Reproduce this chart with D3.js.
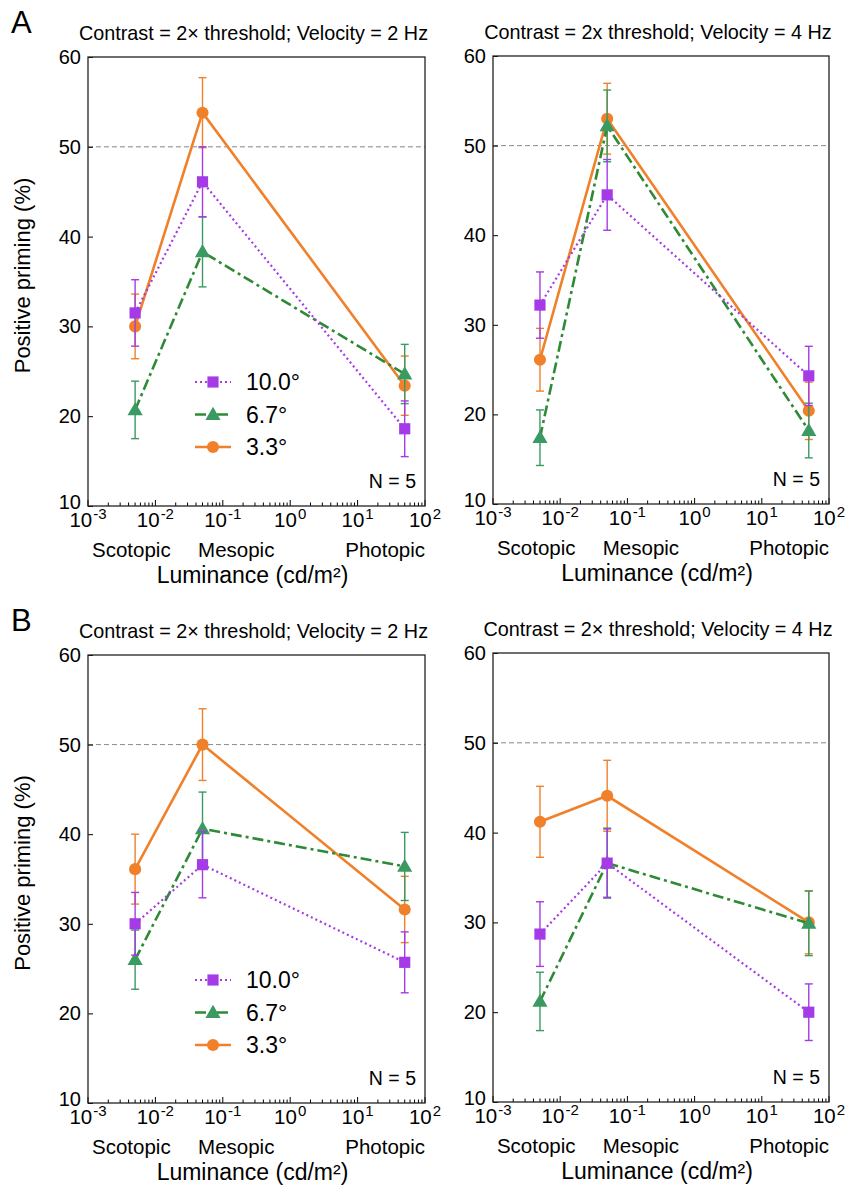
<!DOCTYPE html>
<html><head><meta charset="utf-8">
<script src="https://cdn.jsdelivr.net/npm/d3@7"></script>
<style>html,body{margin:0;padding:0;background:#fff;} text{font-family:"Liberation Sans",Arial,Helvetica,sans-serif;fill:#000;}</style>
</head><body>
<svg id="chart" width="848" height="1189"></svg>
<script>
// ---------- DATA ----------
const luminance = [0.005, 0.05, 50];
const seriesNames = ["10.0°", "6.7°", "3.3°"];
const yTicks = [10, 20, 30, 40, 50, 60];
const xTickLabels = ["-3", "-2", "-1", "0", "1", "2"];
const regimeLabels = ["Scotopic", "Mesopic", "Photopic"];
const chanceLevel = 50;

// Panel A, 2 Hz
const a2_deg10 = [31.5, 46.1, 18.6], a2_deg10_err = [3.7, 3.9, 3.1];
const a2_deg67 = [20.7, 38.3, 24.7], a2_deg67_err = [3.2, 3.9, 3.3];
const a2_deg33 = [30.0, 53.8, 23.4], a2_deg33_err = [3.6, 3.9, 3.3];
// Panel A, 4 Hz
const a4_deg10 = [32.2, 44.5, 24.3], a4_deg10_err = [3.7, 3.95, 3.3];
const a4_deg67 = [17.4, 52.2, 18.2], a4_deg67_err = [3.1, 4.0, 3.05];
const a4_deg33 = [26.1, 53.0, 20.4], a4_deg33_err = [3.5, 3.95, 3.2];
// Panel B, 2 Hz
const b2_deg10 = [30.0, 36.6, 25.7], b2_deg10_err = [3.5, 3.7, 3.4];
const b2_deg67 = [26.0, 40.6, 36.4], b2_deg67_err = [3.3, 4.1, 3.8];
const b2_deg33 = [36.1, 50.0, 31.6], b2_deg33_err = [3.9, 4.0, 3.7];
// Panel B, 4 Hz
const b4_deg10 = [28.7, 36.6, 20.0], b4_deg10_err = [3.6, 3.8, 3.15];
const b4_deg67 = [21.2, 36.6, 29.9], b4_deg67_err = [3.25, 3.9, 3.6];
const b4_deg33 = [41.2, 44.1, 30.0], b4_deg33_err = [3.95, 3.95, 3.5];

// ---------- STYLE ----------
const styles = [
  {line:"#a43be6", mark:"#a43be6", dash:"2,3", width:2.2, sym:d3.symbolSquare, size:125},
  {line:"#2f8a35", mark:"#3a9a62", dash:"11,4,3,4", width:2.6, sym:d3.symbolTriangle, size:100},
  {line:"#f0802a", mark:"#f0802a", dash:null, width:2.6, sym:d3.symbolCircle, size:115}
];
const drawOrder = [2, 1, 0];

const panels = [
  {x0:88, x1:425, y0:57, y1:506, title:"Contrast = 2× threshold; Velocity = 2 Hz", letter:"A", ylab:true, legend:true,
   vals:[a2_deg10,a2_deg67,a2_deg33], errs:[a2_deg10_err,a2_deg67_err,a2_deg33_err]},
  {x0:493, x1:829, y0:56, y1:504, title:"Contrast = 2x threshold; Velocity = 4 Hz", letter:null, ylab:false, legend:false,
   vals:[a4_deg10,a4_deg67,a4_deg33], errs:[a4_deg10_err,a4_deg67_err,a4_deg33_err]},
  {x0:88, x1:425, y0:655, y1:1103, title:"Contrast = 2× threshold; Velocity = 2 Hz", letter:"B", ylab:true, legend:true,
   vals:[b2_deg10,b2_deg67,b2_deg33], errs:[b2_deg10_err,b2_deg67_err,b2_deg33_err]},
  {x0:493, x1:829, y0:653, y1:1102, title:"Contrast = 2× threshold; Velocity = 4 Hz", letter:null, ylab:false, legend:false,
   vals:[b4_deg10,b4_deg67,b4_deg33], errs:[b4_deg10_err,b4_deg67_err,b4_deg33_err]}
];

const svg = d3.select("#chart");
svg.append("rect").attr("width",848).attr("height",1189).attr("fill","#fff");

panels.forEach(p => {
  const g = svg.append("g");
  const x = d3.scaleLog().domain([1e-3, 1e2]).range([p.x0, p.x1]);
  const y = d3.scaleLinear().domain([10, 60]).range([p.y1, p.y0]);
  const cx = (p.x0 + p.x1) / 2;

  // title
  g.append("text").attr("x", cx - 3).attr("y", p.y0 - 17).attr("text-anchor","middle")
    .style("font-size","19.8px").text(p.title);
  if (p.letter) g.append("text").attr("x", 11).attr("y", p.y0 - 24).style("font-size","31px").text(p.letter);

  // chance line
  g.append("line").attr("x1", p.x0).attr("x2", p.x1).attr("y1", y(chanceLevel)).attr("y2", y(chanceLevel))
    .attr("stroke","#888").attr("stroke-width",1).attr("stroke-dasharray","5,3");

  // y axis (inward ticks)
  const yAxis = d3.axisLeft(y).tickValues(yTicks).tickSize(-5).tickSizeOuter(0).tickPadding(7);
  const ya = g.append("g").attr("transform",`translate(${p.x0},0)`).call(yAxis);
  ya.select(".domain").remove();
  ya.selectAll(".tick line").attr("stroke","#000").attr("stroke-width",1);
  ya.selectAll(".tick text").style("font-size","20px").attr("fill","#000")
    .style("font-family",'"Liberation Sans",Arial,sans-serif');
  ya.selectAll(".tick").filter(d => d === 10).select("text").attr("dy", "0.1em");

  // x ticks (log, inward)
  x.ticks().forEach(t => {
    const lg = Math.log10(t);
    const major = Math.abs(lg - Math.round(lg)) < 1e-9;
    g.append("line").attr("x1", x(t)).attr("x2", x(t)).attr("y1", p.y1).attr("y2", p.y1 - (major ? 6 : 3.5))
      .attr("stroke","#000").attr("stroke-width",1);
  });
  xTickLabels.forEach(e => {
    const v = Math.pow(10, +e);
    const t = g.append("text").attr("x", x(v)).attr("y", p.y1 + 21).attr("text-anchor","middle").style("font-size","20.5px");
    t.append("tspan").text("10");
    t.append("tspan").attr("dy", -8).attr("dx", 1).style("font-size","15px").text(e);
  });

  // regime labels
  g.append("text").attr("x", x(0.0044)).attr("y", p.y1 + 51).attr("text-anchor","middle").style("font-size","20.5px").text(regimeLabels[0]);
  g.append("text").attr("x", x(0.043)).attr("y", p.y1 + 51).attr("text-anchor","start").style("font-size","20.5px").text(regimeLabels[1]);
  g.append("text").attr("x", x(100)).attr("y", p.y1 + 51).attr("text-anchor","end").style("font-size","20.5px").text(regimeLabels[2]);

  // x label
  g.append("text").attr("x", cx - 4).attr("y", p.y1 + 77).attr("text-anchor","middle").style("font-size","23px")
    .text("Luminance (cd/m²)");

  // y label
  if (p.ylab) {
    g.append("text").attr("transform", `translate(30,${(p.y0+p.y1)/2 - 6}) rotate(-90)`)
      .attr("text-anchor","middle").style("font-size","22px").text("Positive priming (%)");
  }

  // series
  drawOrder.forEach(si => {
    const st = styles[si];
    const vals = p.vals[si], errs = p.errs[si];
    const pts = luminance.map((l, i) => ({l, v: vals[i], e: errs[i]}));
    const sg = g.append("g");
    pts.forEach(d => {
      sg.append("line").attr("x1", x(d.l)).attr("x2", x(d.l)).attr("y1", y(d.v - d.e)).attr("y2", y(d.v + d.e))
        .attr("stroke", st.mark).attr("stroke-width", 1.4);
      [d.v - d.e, d.v + d.e].forEach(yy => {
        sg.append("line").attr("x1", x(d.l) - 4).attr("x2", x(d.l) + 4).attr("y1", y(yy)).attr("y2", y(yy))
          .attr("stroke", st.mark).attr("stroke-width", 1.4);
      });
    });
    const line = d3.line().x(d => x(d.l)).y(d => y(d.v));
    sg.append("path").attr("d", line(pts)).attr("fill","none").attr("stroke", st.line)
      .attr("stroke-width", st.width).attr("stroke-dasharray", st.dash);
    sg.selectAll("path.m").data(pts).enter().append("path").attr("class","m")
      .attr("d", d3.symbol().type(st.sym).size(st.size))
      .attr("transform", d => `translate(${x(d.l)},${y(d.v) + (st.sym === d3.symbolTriangle ? 1 : 0)})`)
      .attr("fill", st.mark);
  });

  // frame
  g.append("rect").attr("x", p.x0).attr("y", p.y0).attr("width", p.x1 - p.x0).attr("height", p.y1 - p.y0)
    .attr("fill","none").attr("stroke","#222").attr("stroke-width",1.3);

  // N = 5
  g.append("text").attr("x", p.x1 - 9).attr("y", p.y1 - 18).attr("text-anchor","end").style("font-size","19.5px").text("N = 5");

  // legend
  if (p.legend) {
    const ly0 = p.y0 + 325;
    seriesNames.forEach((name, i) => {
      const st = styles[i];
      const ly = ly0 + i * 32.5;
      g.append("line").attr("x1", 195).attr("x2", 231).attr("y1", ly).attr("y2", ly)
        .attr("stroke", st.line).attr("stroke-width", st.width).attr("stroke-dasharray", st.dash);
      g.append("path").attr("d", d3.symbol().type(st.sym).size(st.size)())
        .attr("transform", `translate(213,${ly + (st.sym === d3.symbolTriangle ? 1 : 0)})`).attr("fill", st.mark);
      g.append("text").attr("x", 246).attr("y", ly + 8).style("font-size","23px").text(name);
    });
  }
});
</script>
</body></html>
